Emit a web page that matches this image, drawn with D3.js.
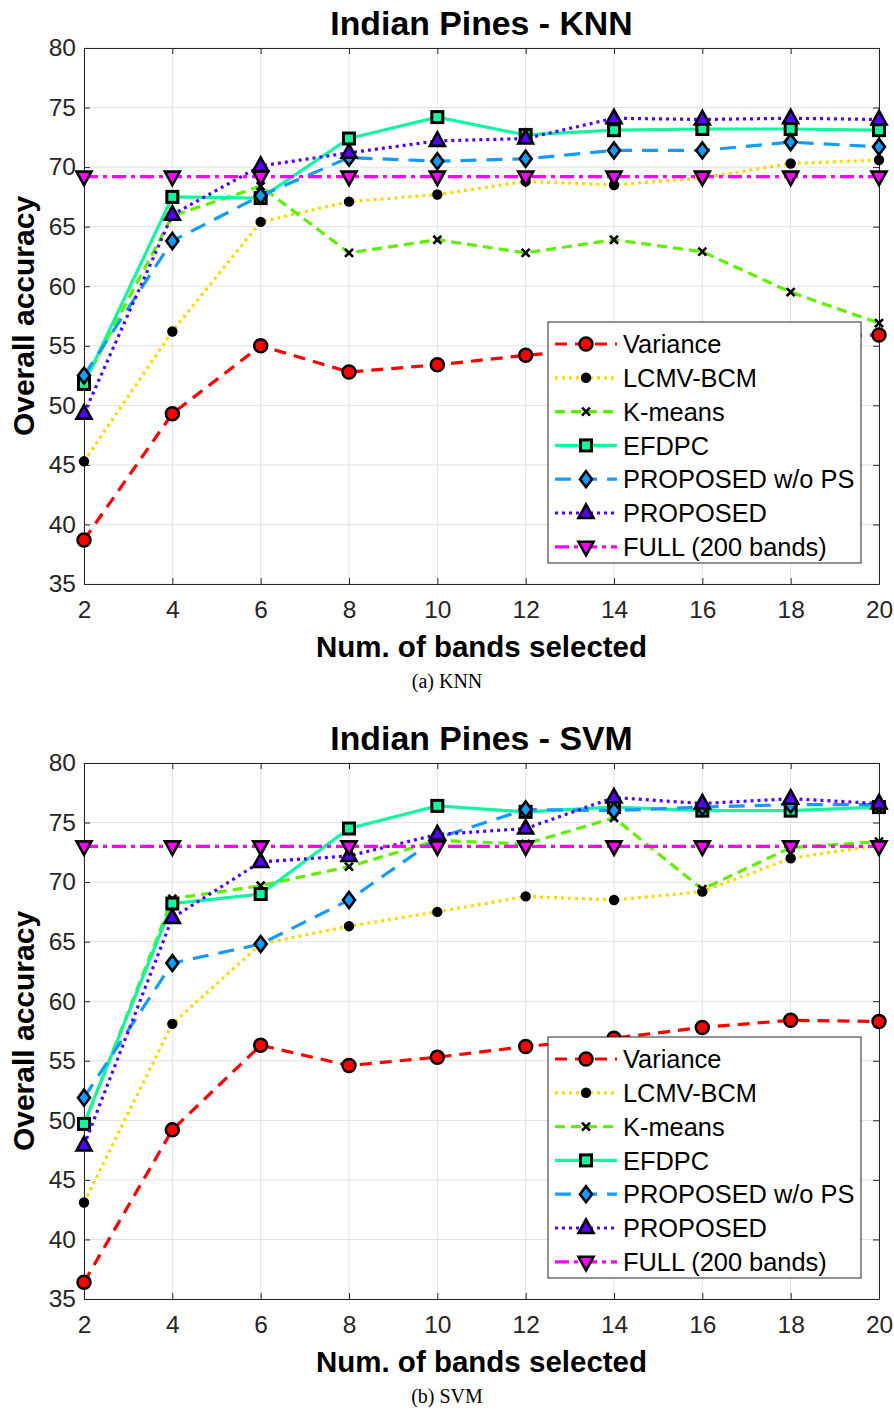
<!DOCTYPE html>
<html>
<head>
  <meta charset="UTF-8">
  <title>Indian Pines</title>
  <script src="https://d3js.org/d3.v7.min.js"></script>
  <style>
    * { margin: 0; padding: 0; box-sizing: border-box; }
    body { background: white; font-family: "Liberation Sans", Arial, sans-serif; }
  </style>
</head>
<body>
  <div id="chart"></div>
  <script>
    // values
    const bands = [2, 4, 6, 8, 10, 12, 14, 16, 18, 20];
    const yTicks = [35, 40, 45, 50, 55, 60, 65, 70, 75, 80];
    const methods = ["Variance", "LCMV-BCM", "K-means", "EFDPC", "PROPOSED w/o PS", "PROPOSED", "FULL (200 bands)"];

    const knnVariance     = [38.7, 49.3, 55.0, 52.8, 53.4, 54.2, 54.8, 55.3, 55.8, 55.9];
    const knnLcmv         = [45.3, 56.2, 65.4, 67.1, 67.7, 68.8, 68.5, 69.1, 70.3, 70.6];
    const knnKmeans       = [51.9, 65.9, 68.4, 62.8, 63.9, 62.8, 63.9, 62.9, 59.5, 56.9];
    const knnEfdpc        = [51.8, 67.5, 67.4, 72.4, 74.2, 72.7, 73.1, 73.2, 73.2, 73.1];
    const knnProposedNoPs = [52.5, 63.8, 67.6, 70.8, 70.5, 70.7, 71.4, 71.4, 72.1, 71.7];
    const knnProposed     = [49.3, 66.0, 70.1, 71.2, 72.2, 72.4, 74.1, 74.0, 74.1, 74.0];
    const knnFull         = [69.2, 69.2, 69.2, 69.2, 69.2, 69.2, 69.2, 69.2, 69.2, 69.2];

    const svmVariance     = [36.4, 49.2, 56.3, 54.6, 55.3, 56.2, 56.9, 57.8, 58.4, 58.3];
    const svmLcmv         = [43.1, 58.1, 64.8, 66.3, 67.5, 68.8, 68.5, 69.2, 72.0, 73.1];
    const svmKmeans       = [49.6, 68.6, 69.7, 71.3, 73.5, 73.2, 75.4, 69.4, 72.9, 73.4];
    const svmEfdpc        = [49.7, 68.2, 69.0, 74.5, 76.4, 75.9, 76.3, 76.0, 76.0, 76.3];
    const svmProposedNoPs = [51.9, 63.2, 64.8, 68.5, 73.7, 76.1, 76.0, 76.3, 76.5, 76.5];
    const svmProposed     = [47.9, 67.0, 71.7, 72.2, 74.0, 74.5, 77.1, 76.6, 77.0, 76.6];
    const svmFull         = [73.0, 73.0, 73.0, 73.0, 73.0, 73.0, 73.0, 73.0, 73.0, 73.0];

    const styles = [
      {color: "#ff0000", dash: "12,8",       width: 3.2, marker: "circle"},
      {color: "#ffd700", dash: "3,4",        width: 3.2, marker: "dot"},
      {color: "#5ef000", dash: "10,6",       width: 3.2, marker: "x"},
      {color: "#14f5a0", dash: null,         width: 3.2, marker: "square"},
      {color: "#139bff", dash: "16,10",      width: 3.2, marker: "diamond"},
      {color: "#5500ff", dash: "3,4",        width: 3.2, marker: "up"},
      {color: "#ff00ff", dash: "14,5,4,5",   width: 3.2, marker: "down"}
    ];

    const W = 894, H = 1410;
    const margin = {top: 48, left: 84},
          width = 795,
          height = 536;

    const svg = d3.select("#chart").append("svg")
      .attr("width", W).attr("height", H)
      .style("display", "block");

    function drawMarker(g, type, color, cx, cy) {
      const stroke = "#000";
      if (type === "circle") {
        g.append("circle").attr("cx", cx).attr("cy", cy).attr("r", 6.5)
          .attr("fill", color).attr("stroke", stroke).attr("stroke-width", 2.5);
      } else if (type === "dot") {
        g.append("circle").attr("cx", cx).attr("cy", cy).attr("r", 5.2).attr("fill", "#000");
      } else if (type === "x") {
        g.append("path").attr("d", `M${cx-4},${cy-4}L${cx+4},${cy+4}M${cx-4},${cy+4}L${cx+4},${cy-4}`)
          .attr("stroke", stroke).attr("stroke-width", 2.6).attr("fill", "none");
      } else if (type === "square") {
        g.append("rect").attr("x", cx - 5.5).attr("y", cy - 5.5).attr("width", 11).attr("height", 11)
          .attr("fill", color).attr("stroke", stroke).attr("stroke-width", 3);
      } else if (type === "diamond") {
        g.append("path").attr("d", `M${cx},${cy-8}L${cx+6},${cy}L${cx},${cy+8}L${cx-6},${cy}Z`)
          .attr("fill", color).attr("stroke", stroke).attr("stroke-width", 2.6);
      } else if (type === "up") {
        g.append("path").attr("d", `M${cx},${cy-8.5}L${cx+7.5},${cy+5}L${cx-7.5},${cy+5}Z`)
          .attr("fill", color).attr("stroke", stroke).attr("stroke-width", 2.6).attr("stroke-linejoin", "miter");
      } else if (type === "down") {
        g.append("path").attr("d", `M${cx},${cy+8.5}L${cx+7.5},${cy-5}L${cx-7.5},${cy-5}Z`)
          .attr("fill", color).attr("stroke", stroke).attr("stroke-width", 2.6).attr("stroke-linejoin", "miter");
      }
    }

    function drawPanel(offsetY, title, caption, seriesValues) {
      const g = svg.append("g")
        .attr("transform", `translate(${margin.left},${margin.top + offsetY})`);

      const x = d3.scaleLinear().domain([2, 20]).range([0, width]);
      const y = d3.scaleLinear().domain([35, 80]).range([height, 0]);

      // grid
      g.append("g")
        .selectAll("line.vg").data(bands).enter().append("line")
        .attr("x1", d => x(d)).attr("x2", d => x(d))
        .attr("y1", 0).attr("y2", height)
        .attr("stroke", "#e1e1e1").attr("stroke-width", 1);
      g.append("g")
        .selectAll("line.hg").data(yTicks).enter().append("line")
        .attr("x1", 0).attr("x2", width)
        .attr("y1", d => y(d)).attr("y2", d => y(d))
        .attr("stroke", "#e1e1e1").attr("stroke-width", 1);

      // axes, ticks pointing inside like matlab
      const axB = g.append("g").attr("transform", `translate(0,${height})`)
        .call(d3.axisBottom(x).tickValues(bands).tickSizeInner(-6).tickSizeOuter(0).tickPadding(17));
      const axL = g.append("g")
        .call(d3.axisLeft(y).tickValues(yTicks).tickSizeInner(-6).tickSizeOuter(0).tickPadding(8));
      g.append("g")
        .call(d3.axisTop(x).tickValues(bands).tickSizeInner(-6).tickSizeOuter(0).tickFormat(""));
      g.append("g").attr("transform", `translate(${width},0)`)
        .call(d3.axisRight(y).tickValues(yTicks).tickSizeInner(-6).tickSizeOuter(0).tickFormat(""));

      g.selectAll(".domain").attr("stroke", "#262626");
      g.selectAll(".tick line").attr("stroke", "#262626");
      [axB, axL].forEach(a => a.selectAll("text")
        .attr("fill", "#262626")
        .style("font-family", "'Liberation Sans', Arial, sans-serif")
        .style("font-size", "24.5px"));

      // series
      seriesValues.forEach((vals, i) => {
        const st = styles[i];
        const sg = g.append("g");
        const pts = bands.map((b, j) => [x(b), y(vals[j])]);
        sg.append("path")
          .attr("d", d3.line()(pts))
          .attr("fill", "none")
          .attr("stroke", st.color)
          .attr("stroke-width", st.width)
          .attr("stroke-dasharray", st.dash);
        pts.forEach(p => drawMarker(sg, st.marker, st.color, p[0], p[1]));
      });

      // legend
      const lg = g.append("g").attr("transform", `translate(${width - 331},${height - 262})`);
      lg.append("rect").attr("x", 0).attr("y", 0).attr("width", 313).attr("height", 241)
        .attr("fill", "white").attr("stroke", "#262626").attr("stroke-width", 1);
      methods.forEach((m, i) => {
        const st = styles[i];
        const ly = 22 + i * 33.8;
        lg.append("line").attr("x1", 7).attr("x2", 69).attr("y1", ly).attr("y2", ly)
          .attr("stroke", st.color).attr("stroke-width", st.width)
          .attr("stroke-dasharray", st.dash);
        drawMarker(lg, st.marker, st.color, 38, ly);
        lg.append("text").attr("x", 75).attr("y", ly).attr("dy", "0.36em")
          .style("font-size", "25.4px").attr("fill", "#000").text(m);
      });

      // titles
      g.append("text").attr("x", width / 2).attr("y", -13)
        .attr("text-anchor", "middle")
        .style("font-size", "33.8px").style("font-weight", "bold")
        .text(title);
      g.append("text").attr("x", width / 2).attr("y", height + 73)
        .attr("text-anchor", "middle")
        .style("font-size", "29.5px").style("font-weight", "bold")
        .text("Num. of bands selected");
      g.append("text")
        .attr("transform", `translate(-50,${height / 2}) rotate(-90)`)
        .attr("text-anchor", "middle")
        .style("font-size", "30px").style("font-weight", "bold")
        .text("Overall accuracy");

      svg.append("text").attr("x", W / 2).attr("y", margin.top + offsetY + height + 104)
        .attr("text-anchor", "middle")
        .style("font-family", "'Liberation Serif', 'Times New Roman', serif")
        .style("font-size", "20px")
        .text(caption);
    }

    drawPanel(0, "Indian Pines - KNN", "(a) KNN",
      [knnVariance, knnLcmv, knnKmeans, knnEfdpc, knnProposedNoPs, knnProposed, knnFull]);
    drawPanel(715, "Indian Pines - SVM", "(b) SVM",
      [svmVariance, svmLcmv, svmKmeans, svmEfdpc, svmProposedNoPs, svmProposed, svmFull]);
  </script>
</body>
</html>
